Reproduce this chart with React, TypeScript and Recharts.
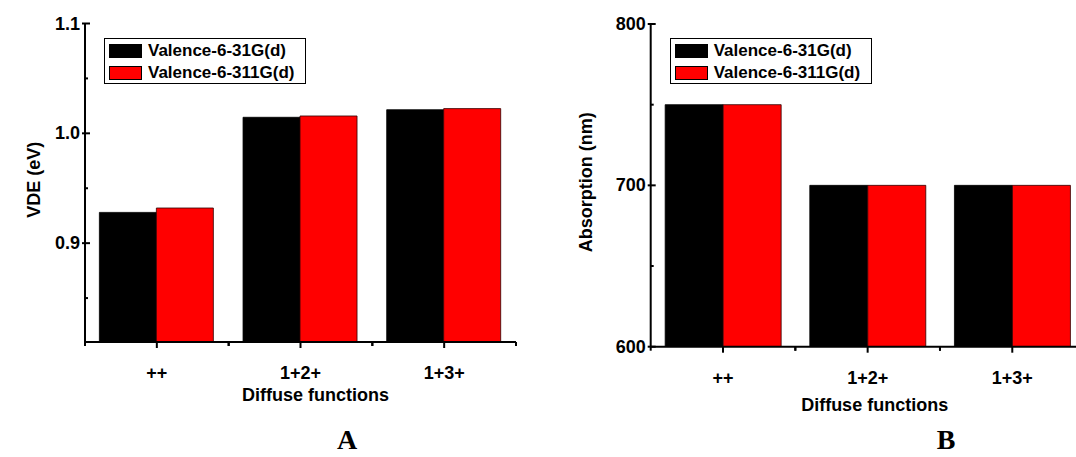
import React from 'react';
import { BarChart, Bar, XAxis, YAxis, Legend } from 'recharts';

// ---------- data ----------
const categories = ['++', '1+2+', '1+3+'];
const seriesNames = ['Valence-6-31G(d)', 'Valence-6-311G(d)'];
const seriesColors = ['#000000', '#ff0000'];

const vde631 = [0.928, 1.0146, 1.0215];
const vde6311 = [0.932, 1.0158, 1.0225];
const vdeDomain = [0.81, 1.1];
const vdeMajorTicks = [0.9, 1.0, 1.1];
const vdeMinorTicks = [0.85, 0.95, 1.05];

const abs631 = [750, 700, 700];
const abs6311 = [750, 700, 700];
const absDomain = [600, 800];
const absMajorTicks = [600, 700, 800];
const absMinorTicks = [650, 750];

const frameTicks = [0, 1, 2, 3, 4, 5, 6, 7, 8, 9, 10];
const frameDomain = [0, 10];

const xTitle = 'Diffuse functions';
const yTitles = ['VDE (eV)', 'Absorption (nm)'];
const panelLetters = ['A', 'B'];

const FONT = '"Liberation Sans", Arial, Helvetica, sans-serif';
const SERIF = '"Liberation Serif", "Times New Roman", serif';

type Geo = {
  left: number;
  width: number;
  height: number;
  mL: number;
  mR: number;
  mT: number;
  mB: number;
  yW: number;
  xH: number;
  yTitleDx: number;
  yTitleDy: number;
  xTitleDx: number;
  xTitleDy: number;
};

const renderLegend = () => (
  <div
    style={{
      width: 202,
      height: 46,
      border: '1px solid #000',
      boxSizing: 'border-box',
      background: '#fff',
      fontFamily: FONT,
      fontWeight: 700,
      fontSize: 17,
      paddingTop: 1,
    }}
  >
    {seriesNames.map((n, i) => (
      <div key={n} style={{ display: 'flex', alignItems: 'center', height: 22, marginLeft: 4 }}>
        <div
          style={{
            width: 33,
            height: 14,
            background: seriesColors[i],
            border: '1px solid #000',
            boxSizing: 'border-box',
          }}
        />
        <span style={{ marginLeft: 6, lineHeight: '22px', color: '#000' }}>{n}</span>
      </div>
    ))}
  </div>
);

function Panel(props: {
  vals1: number[];
  vals2: number[];
  domain: number[];
  majors: number[];
  minors: number[];
  decimals: number;
  yTitle: string;
  geo: Geo;
}) {
  const { vals1, vals2, domain, majors, minors, decimals, yTitle, geo } = props;
  const data = categories.map((c, i) => ({ cat: c, s1: vals1[i], s2: vals2[i] }));
  const yTicks = [...majors, ...minors].sort((a, b) => a - b);
  const plotW = geo.width - geo.mL - geo.mR - geo.yW;
  const band = plotW / categories.length;
  const isMajor = (v: number) => majors.some((m) => Math.abs(m - v) < 1e-9);

  const leftTick = (p: any) => {
    const { x, y, payload } = p;
    const v = payload.value;
    const maj = isMajor(v);
    return (
      <g>
        {maj ? (
          <line x1={x - 3} x2={x + 5} y1={y} y2={y} stroke="#000" strokeWidth={2} />
        ) : (
          <line x1={x} x2={x + 3} y1={y} y2={y} stroke="#000" strokeWidth={2} />
        )}
        {maj && (
          <text
            x={x - 5}
            y={y}
            textAnchor="end"
            dominantBaseline="central"
            fontFamily={FONT}
            fontWeight={700}
            fontSize={18}
            fill="#000"
          >
            {v.toFixed(decimals)}
          </text>
        )}
      </g>
    );
  };

  const bottomTick = (p: any) => {
    const { x, y, payload } = p;
    return (
      <g>
        <line x1={x} x2={x} y1={y} y2={y + 6} stroke="#000" strokeWidth={2} />
        <line x1={x - band / 2} x2={x - band / 2} y1={y} y2={y + 4} stroke="#000" strokeWidth={2} />
        <line x1={x + band / 2} x2={x + band / 2} y1={y} y2={y + 4} stroke="#000" strokeWidth={2} />
        <text
          x={x}
          y={y + 31}
          textAnchor="middle"
          dominantBaseline="central"
          fontFamily={FONT}
          fontWeight={700}
          fontSize={18}
          fill="#000"
        >
          {payload.value}
        </text>
      </g>
    );
  };

  const topTick = (p: any) => {
    const { x, y } = p;
    return <line x1={x} x2={x} y1={y - 1} y2={y + 3} stroke="#000" strokeWidth={1.5} />;
  };

  const rightTick = (p: any) => {
    const { x, y } = p;
    return <line x1={x} x2={x + 4} y1={y} y2={y} stroke="#000" strokeWidth={1.5} />;
  };

  const xLabel = (p: any) => {
    const vb = p.viewBox;
    return (
      <text
        x={vb.x + vb.width / 2 + geo.xTitleDx}
        y={vb.y + geo.xTitleDy}
        textAnchor="middle"
        dominantBaseline="central"
        fontFamily={FONT}
        fontWeight={700}
        fontSize={18}
        fill="#000"
      >
        {xTitle}
      </text>
    );
  };

  const yLabel = (p: any) => {
    const vb = p.viewBox;
    const cx = vb.x + vb.width + geo.yTitleDx;
    const cy = vb.y + vb.height / 2 + geo.yTitleDy;
    return (
      <text
        x={cx}
        y={cy}
        transform={`rotate(-90, ${cx}, ${cy})`}
        textAnchor="middle"
        dominantBaseline="central"
        fontFamily={FONT}
        fontWeight={700}
        fontSize={18}
        fill="#000"
      >
        {yTitle}
      </text>
    );
  };

  return (
    <div style={{ position: 'absolute', left: geo.left, top: 0, width: geo.width, height: geo.height }}>
      <BarChart
        width={geo.width}
        height={geo.height}
        data={data}
        margin={{ left: geo.mL, right: geo.mR, top: geo.mT, bottom: geo.mB }}
        barCategoryGap="10%"
        barGap={0}
      >
        <XAxis
          dataKey="cat"
          type="category"
          height={geo.xH}
          tickSize={0}
          tickMargin={0}
          tickLine={false}
          axisLine={{ stroke: '#000', strokeWidth: 2 }}
          tick={bottomTick}
          interval={0}
          label={xLabel}
        />
        <XAxis
          xAxisId="frameT"
          orientation="top"
          type="number"
          domain={frameDomain}
          allowDataOverflow
          ticks={frameTicks}
          height={0}
          tickSize={0}
          tickMargin={0}
          tickLine={false}
          axisLine={{ stroke: '#000', strokeWidth: 2 }}
          tick={topTick}
          interval={0}
        />
        <YAxis
          type="number"
          domain={domain}
          allowDataOverflow
          ticks={yTicks}
          width={geo.yW}
          tickSize={0}
          tickMargin={0}
          tickLine={false}
          axisLine={{ stroke: '#000', strokeWidth: 2 }}
          tick={leftTick}
          interval={0}
          label={yLabel}
        />
        <YAxis
          yAxisId="frameR"
          orientation="right"
          type="number"
          domain={frameDomain}
          allowDataOverflow
          ticks={frameTicks}
          width={0}
          tickSize={0}
          tickMargin={0}
          tickLine={false}
          axisLine={{ stroke: '#000', strokeWidth: 2 }}
          tick={rightTick}
          interval={0}
        />
        <Legend
          content={renderLegend}
          layout="vertical"
          align="center"
          verticalAlign="middle"
          wrapperStyle={{
            left: geo.mL + geo.yW + 19,
            top: geo.mT + 14,
            width: 'auto',
            height: 'auto',
          }}
        />
        <Bar
          dataKey="s1"
          name={seriesNames[0]}
          fill={seriesColors[0]}
          stroke="#000"
          strokeWidth={0.8}
          isAnimationActive={false}
        />
        <Bar
          dataKey="s2"
          name={seriesNames[1]}
          fill={seriesColors[1]}
          stroke="#300000"
          strokeWidth={0.8}
          isAnimationActive={false}
        />
      </BarChart>
    </div>
  );
}

const geoA: Geo = {
  left: 0,
  width: 540,
  height: 457,
  mL: 25,
  mR: 24,
  mT: 23.5,
  mB: 55,
  yW: 60,
  xH: 60,
  yTitleDx: -50.6,
  yTitleDy: -3,
  xTitleDx: 15,
  xTitleDy: 53,
};

const geoB: Geo = {
  left: 560,
  width: 540,
  height: 457,
  mL: 30.7,
  mR: 15.4,
  mT: 24,
  mB: 50.3,
  yW: 60,
  xH: 60,
  yTitleDx: -64.5,
  yTitleDy: -3,
  xTitleDx: 7,
  xTitleDy: 58,
};

export default function App() {
  return (
    <div
      style={{
        position: 'fixed',
        left: 0,
        top: 0,
        width: 1076,
        height: 457,
        overflow: 'hidden',
        background: '#fff',
      }}
    >
      <Panel
        vals1={vde631}
        vals2={vde6311}
        domain={vdeDomain}
        majors={vdeMajorTicks}
        minors={vdeMinorTicks}
        decimals={1}
        yTitle={yTitles[0]}
        geo={geoA}
      />
      <Panel
        vals1={abs631}
        vals2={abs6311}
        domain={absDomain}
        majors={absMajorTicks}
        minors={absMinorTicks}
        decimals={0}
        yTitle={yTitles[1]}
        geo={geoB}
      />
      <svg
        width={1076}
        height={457}
        style={{ position: 'absolute', left: 0, top: 0, pointerEvents: 'none' }}
      >
        <text x={347} y={449} textAnchor="middle" fontFamily={SERIF} fontWeight={700} fontSize={28} fill="#000">
          {panelLetters[0]}
        </text>
        <text x={946} y={449} textAnchor="middle" fontFamily={SERIF} fontWeight={700} fontSize={28} fill="#000">
          {panelLetters[1]}
        </text>
      </svg>
    </div>
  );
}
